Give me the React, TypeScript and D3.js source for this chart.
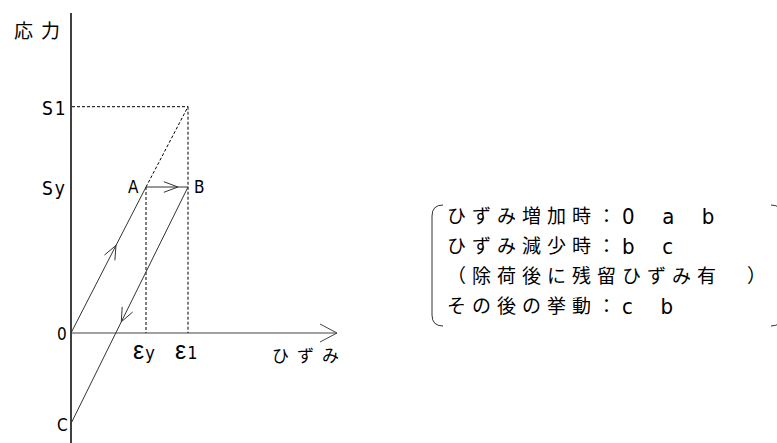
import React, { useEffect, useRef } from "react";
import * as d3 from "d3";

// stress-strain path (normalised: εy = 1, Sy = 1)
const pathLabels = ["0", "A", "B", "C"];
const pathStrain = [0, 1, 1.56, 0];
const pathStress = [0, 1, 1, -0.62];

const strainTickSymbols = ["ε", "ε"];
const strainTickSubs = ["y", "1"];
const strainTickValues = [1, 1.56];

const stressTickLabels = ["S1", "Sy", "0", "C"];
const stressTickValues = [1.55, 1, 0, -0.62];

const noteHeads = [
  "ひずみ増加時：",
  "ひずみ減少時：",
  "（除荷後に残留ひずみ有　）",
  "その後の挙動：",
];
const noteTails = ["0  a  b", "b  c", "", "c  b"];

const FONT = "'Liberation Sans', 'Noto Sans CJK JP', sans-serif";
const NARROW = "'DejaVu Sans Condensed', 'Liberation Sans', 'Noto Sans CJK JP', sans-serif";

const App = () => {
  const svgRef = useRef<SVGSVGElement | null>(null);

  useEffect(() => {
    const width = 777;
    const height = 443;
    const svg = d3.select(svgRef.current);
    svg.selectAll("*").remove();
    svg.attr("width", width).attr("height", height);

    const x = d3.scaleLinear().domain([0, 1]).range([71, 146]);
    const y = d3.scaleLinear().domain([0, 1]).range([333, 187]);

    const g = svg.append("g");

    // --- axes ---
    g.append("line")
      .attr("x1", x(0)).attr("x2", x(0))
      .attr("y1", 13).attr("y2", height)
      .attr("stroke", "#000").attr("stroke-width", 1.5);

    const xEnd = 337;
    g.append("line")
      .attr("x1", x(0)).attr("x2", xEnd)
      .attr("y1", y(0)).attr("y2", y(0))
      .attr("stroke", "#444").attr("stroke-width", 1);
    g.append("path")
      .attr("d", `M ${xEnd - 17},${y(0) - 9} L ${xEnd},${y(0)} L ${xEnd - 17},${y(0) + 9}`)
      .attr("fill", "none").attr("stroke", "#444").attr("stroke-width", 1);

    // --- dashed helper lines ---
    const pt = (i: number): [number, number] => [x(pathStrain[i]), y(pathStress[i])];
    const [ax, ay] = pt(1);
    const [bx, by] = pt(2);
    const e1 = strainTickValues[1];
    const s1 = stressTickValues[0];
    const dashed = (x1: number, y1: number, x2: number, y2: number) =>
      g.append("line")
        .attr("x1", x1).attr("y1", y1).attr("x2", x2).attr("y2", y2)
        .attr("stroke", "#000").attr("stroke-width", 1)
        .attr("stroke-dasharray", "3,2");
    dashed(x(0) + 1, y(s1), x(e1), y(s1));
    dashed(x(e1), y(s1), x(e1), y(0));
    dashed(ax, ay, x(e1), y(s1));
    dashed(ax, ay, ax, y(0));

    // --- loading path ---
    const line = d3.line<number>()
      .x((i) => x(pathStrain[i]))
      .y((i) => y(pathStress[i]));
    g.append("path")
      .attr("d", line([0, 1, 2, 3]))
      .attr("fill", "none").attr("stroke", "#333").attr("stroke-width", 1);

    // open chevron arrows along segments
    const chevron = (i: number, j: number, t: number, len: number, ang: number) => {
      const [x1, y1] = pt(i);
      const [x2, y2] = pt(j);
      const tx = x1 + (x2 - x1) * t;
      const ty = y1 + (y2 - y1) * t;
      const a = Math.atan2(y2 - y1, x2 - x1);
      const p1 = [tx - len * Math.cos(a - ang), ty - len * Math.sin(a - ang)];
      const p2 = [tx - len * Math.cos(a + ang), ty - len * Math.sin(a + ang)];
      g.append("path")
        .attr("d", `M ${p1[0]},${p1[1]} L ${tx},${ty} L ${p2[0]},${p2[1]}`)
        .attr("fill", "none").attr("stroke", "#333").attr("stroke-width", 1);
    };
    chevron(0, 1, 0.6, 15, 0.4);
    chevron(1, 2, 0.76, 15, 0.36);
    chevron(2, 3, 0.57, 15, 0.4);

    // --- labels ---
    const label = (txt: string, lx: number, ly: number, size = 16, ls = 3, fam = FONT) =>
      g.append("text")
        .attr("x", lx).attr("y", ly)
        .attr("dominant-baseline", "central")
        .attr("letter-spacing", ls)
        .style("font-family", fam)
        .style("font-size", `${size}px`)
        .style("fill", "#000")
        .style("white-space", "pre")
        .text(txt);

    label("応力", 14, 31, 19, 8);

    stressTickLabels.forEach((t, i) => {
      const big = t.length > 1;
      label(t, big ? 42 : 57, y(stressTickValues[i]) + 1, big ? 19 : 17, big ? 2 : 0, NARROW);
    });

    label(pathLabels[1], ax - 18, ay, 17, 0, NARROW);
    label(pathLabels[2], bx + 6, by, 17, 0, NARROW);

    strainTickValues.forEach((v, i) => {
      const t = g.append("text")
        .attr("x", x(v) - 13).attr("y", 359)
        .style("font-family", NARROW)
        .style("font-size", "18px")
        .style("fill", "#000");
      t.append("tspan")
        .style("font-family", FONT)
        .style("font-size", "25px")
        .style("font-weight", "300")
        .text(strainTickSymbols[i]);
      t.append("tspan").attr("dx", 1).text(strainTickSubs[i]);
    });

    label("ひずみ", 272, 356, 17, 8);

    // --- note box (bracket shape) ---
    const top = 205;
    const bot = 326;
    const lx0 = 432;
    const rx0 = 782;
    const r = 11;
    g.append("path")
      .attr("d", `M ${lx0 + r},${top} Q ${lx0},${top} ${lx0},${top + r} L ${lx0},${bot - r} Q ${lx0},${bot} ${lx0 + r},${bot}`)
      .attr("fill", "none").attr("stroke", "#333").attr("stroke-width", 1);
    g.append("path")
      .attr("d", `M ${rx0 - r},${top} Q ${rx0},${top} ${rx0},${top + r} L ${rx0},${bot - r} Q ${rx0},${bot} ${rx0 - r},${bot}`)
      .attr("fill", "none").attr("stroke", "#333").attr("stroke-width", 1);

    noteHeads.forEach((h, i) => {
      const t = label(h, 447, 216 + i * 30, 19, 6);
      if (noteTails[i]) {
        t.append("tspan")
          .attr("letter-spacing", 5)
          .style("font-family", NARROW)
          .style("font-size", "22px")
          .text(noteTails[i]);
      }
    });
  }, []);

  return (
    <div style={{ position: "absolute", left: 0, top: 0, background: "#fff" }}>
      <svg ref={svgRef} style={{ display: "block" }}></svg>
    </div>
  );
};

export default App;
